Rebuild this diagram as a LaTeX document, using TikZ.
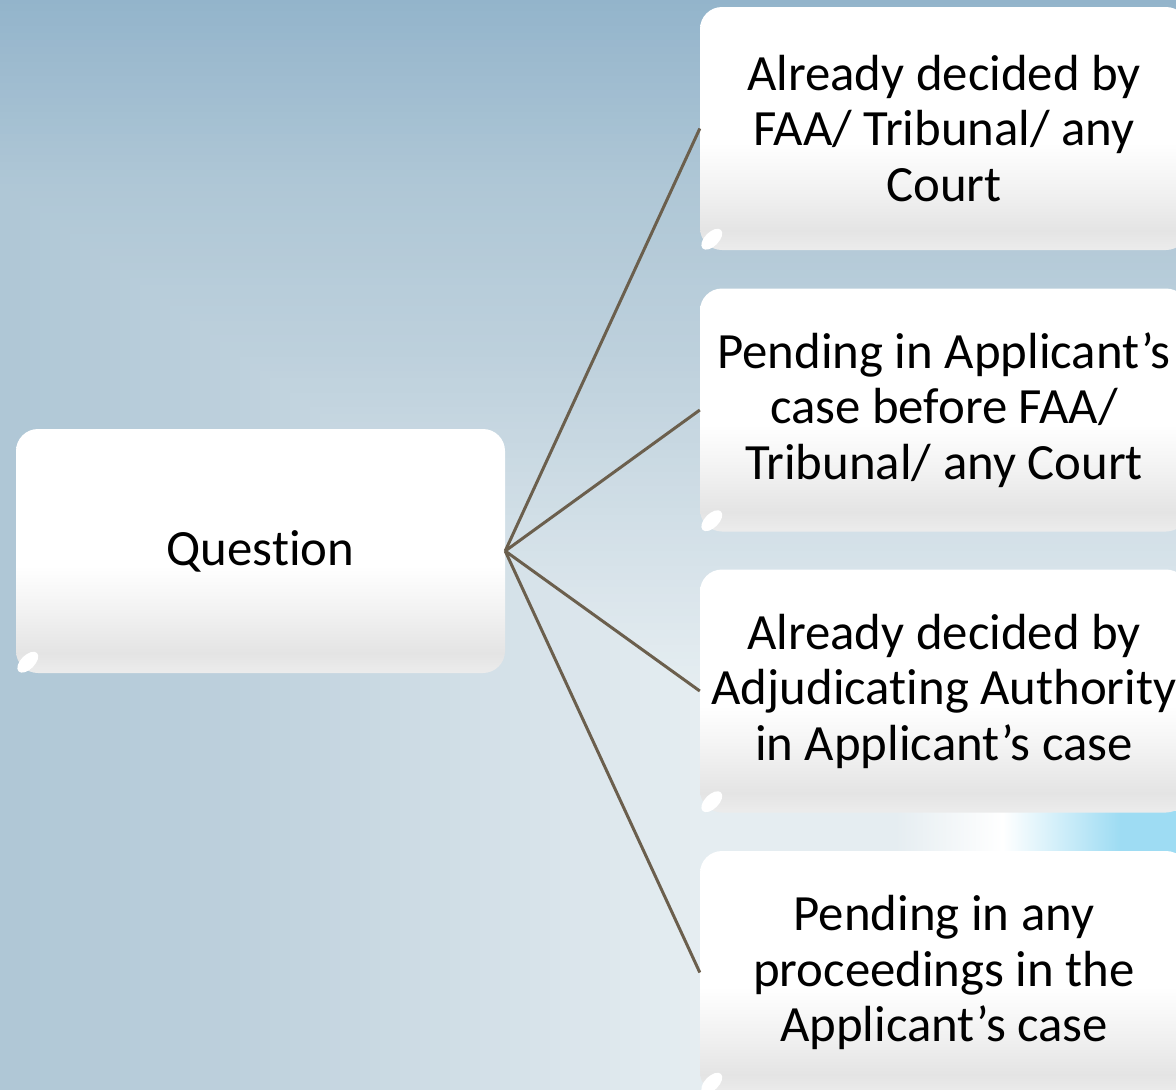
\documentclass[tikz,border=0pt]{standalone}
\usepackage{fontspec}
\setmainfont{Carlito}[Ligatures={NoCommon}]
\usetikzlibrary{calc}

\definecolor{linkc}{HTML}{6B5F4D}
% backdrop colours, from the outer edge inwards
\definecolor{bgtop}{HTML}{93B4CB}
\definecolor{bgc3}{HTML}{AFC7D6}
\definecolor{bgc2}{HTML}{BDD0DC}
\definecolor{bgc1}{HTML}{E5EDF1}
\definecolor{bgc0}{HTML}{F0F4F7}
\definecolor{streakbg}{HTML}{E5EDF1}
\definecolor{streakcy}{HTML}{9EDCF3}
\definecolor{boxlo}{HTML}{E4E4E4}
\definecolor{boxrim}{HTML}{ECECEC}
\definecolor{boxmid}{HTML}{F1F1F1}

% glossy box fill: white upper half, soft grey lower part
\pgfdeclareverticalshading{glossy}{100bp}{color(0bp)=(boxrim); color(25bp)=(boxrim);
  color(29bp)=(boxlo); color(37bp)=(boxmid); color(47bp)=(white); color(100bp)=(white)}

% light streak between the two lower boxes
\pgfdeclarehorizontalshading{streak}{100bp}{color(0bp)=(streakbg); color(45bp)=(streakbg);
  color(56bp)=(white); color(68bp)=(streakcy); color(100bp)=(streakcy)}

\tikzset{
  card/.style={rectangle, rounded corners=22pt, shading=glossy, draw=none,
    align=center, inner sep=0pt, font=\fontsize{50.8}{55.5}\selectfont},
  qcard/.style={card, minimum width=489pt, minimum height=244pt},
  rcard/.style={card, minimum width=488pt, minimum height=243pt},
  link/.style={draw=linkc, line width=3pt},
  curl/.style={fill=white}
}

% one ring of the rectangular backdrop gradient centred at (1050,940)
\newcommand\bgring[2]{%
  \fill[#2] ({1050-#1},{940-0.72*#1}) rectangle ({1050+#1},{940+0.72*#1});}

\begin{document}
\begin{tikzpicture}[x=1pt,y=-1pt]
  \useasboundingbox (0,0) rectangle (1176,1090);
  % backdrop: nested rectangles, dark at the rim, pale towards the lower right
  \fill[bgtop] (0,0) rectangle (1176,1090);
  \foreach \d in {1310,1300,...,1060} {
    \pgfmathsetmacro\p{(\d-1050)/2.6}
    \bgring{\d}{bgtop!\p!bgc3}
  }
  \foreach \d in {1050,1040,...,830} {
    \pgfmathsetmacro\p{(\d-820)/2.3}
    \bgring{\d}{bgc3!\p!bgc2}
  }
  \foreach \d in {820,810,...,370} {
    \pgfmathsetmacro\p{(\d-360)/4.6}
    \bgring{\d}{bgc2!\p!bgc1}
  }
  \foreach \d in {360,350,...,10} {
    \pgfmathsetmacro\p{\d/3.6}
    \bgring{\d}{bgc1!\p!bgc0}
  }
  \shade[shading=streak] (700,811) rectangle (1188,852);

  % nodes
  \node[qcard] (q) at (260.5,551) {Question};
  \node[rcard] (b1) at (944,128.5) {Already decided by\\FAA/ Tribunal/ any\\Court};
  \node[rcard] (b2) at (944,410) {Pending in Applicant’s\\case before FAA/\\Tribunal/ any Court};
  \node[rcard] (b3) at (944,691) {Already decided by\\Adjudicating Authority\\in Applicant’s case};
  \node[rcard] (b4) at (944,972.5) {Pending in any\\proceedings in the\\Applicant’s case};

  % connectors
  \foreach \t in {b1,b2,b3,b4}
    \draw[link] (q.east) -- (\t.west);

  % curled highlight at the lower left corner of every card
  \foreach \n in {q,b1,b2,b3,b4}
    \fill[curl] ($(\n.south west)+(12,-11)$) circle[x radius=13, y radius=7, rotate=45];
\end{tikzpicture}
\end{document}
